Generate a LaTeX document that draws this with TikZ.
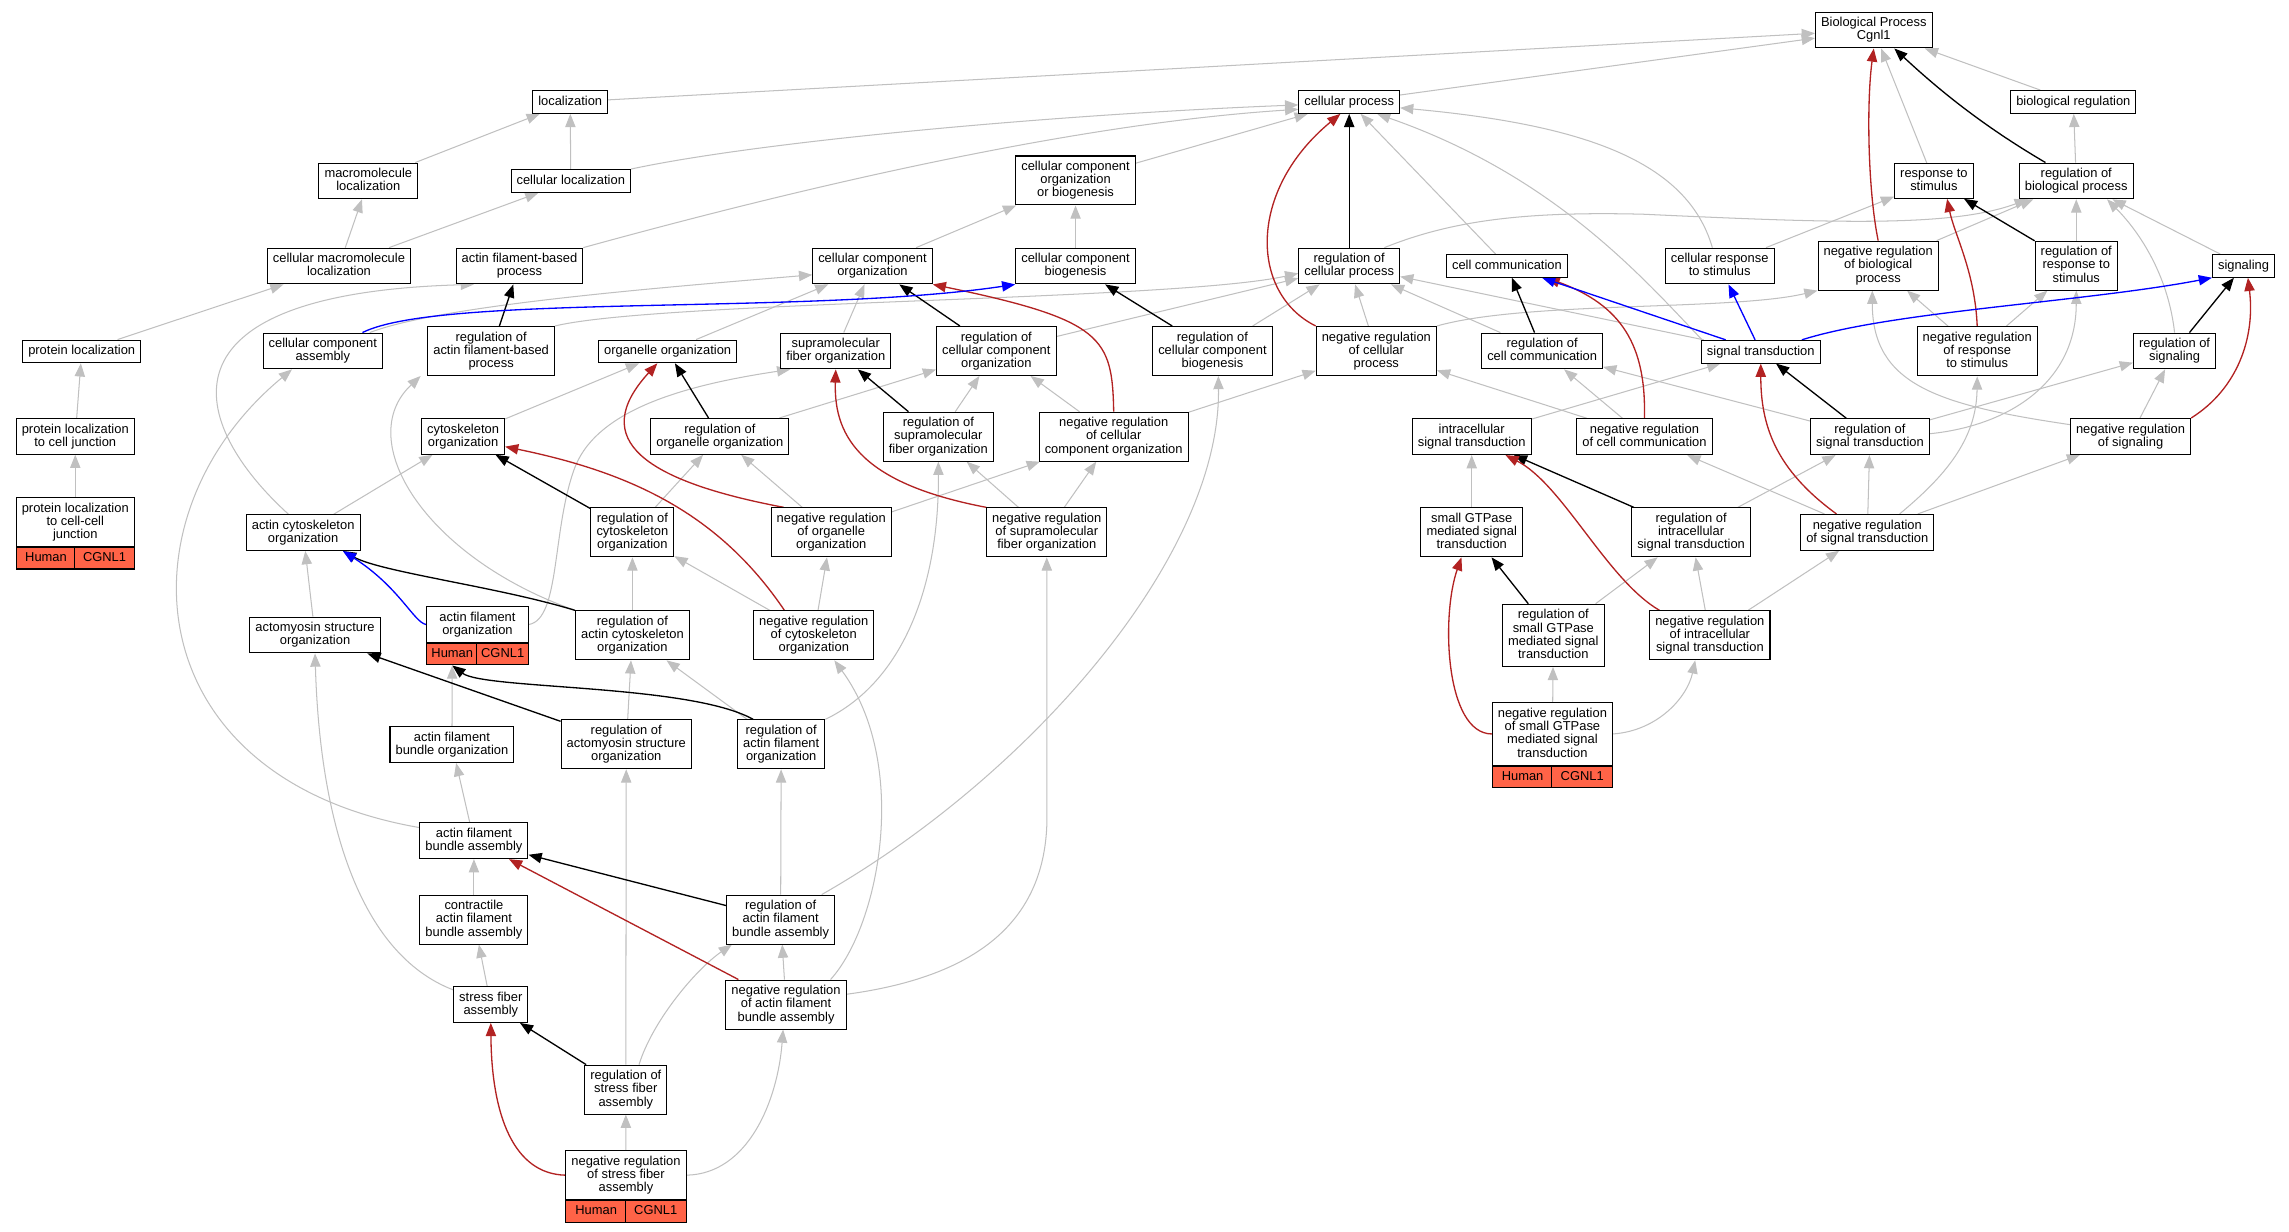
\documentclass[tikz,border=0pt]{standalone}
\usepackage{fontspec}
\setmainfont{Liberation Sans}
\usetikzlibrary{arrows.meta,calc,backgrounds}
\definecolor{isagray}{RGB}{192,192,192}
\definecolor{negred}{RGB}{178,34,34}
\definecolor{partblue}{RGB}{0,0,255}
\definecolor{genecell}{RGB}{255,99,71}
\tikzset{>={Triangle[length=9pt,width=7pt]}}
\tikzset{
	term/.style={draw, fill=white, line width=0.7pt, align=center, font=\fontsize{8.8}{9}\selectfont,
		inner xsep=3.8pt, inner ysep=3.55pt, execute at begin node={\rule[-1.9pt]{0pt}{8.4pt}}},
	band/.style={draw, fill=genecell, line width=0.7pt, font=\fontsize{8.8}{9}\selectfont,
		inner sep=0pt, minimum height=14.7pt, text height=6.4pt, text depth=1.9pt},
	isa/.style={->, draw=isagray, line width=0.7pt},
	reg/.style={->, draw=black, line width=0.9pt},
	negreg/.style={->, draw=negred, line width=0.9pt},
	partof/.style={->, draw=partblue, line width=0.9pt}
}
\newcommand{\annot}[1]{%
	\path let \p1=($(#1.south east)-(#1.south west)$) in
		node[band, minimum width=0.5*\x1, anchor=north west] (#1-sp) at (#1.south west) {Human}
		node[band, minimum width=0.5*\x1, anchor=north east] (#1-gn) at (#1.south east) {CGNL1};}

\begin{document}
\begin{tikzpicture}[x=1pt, y=-1pt]
	\useasboundingbox (0,0) rectangle (1560,839.6);
	\node[term] (bp) at (1277,20.5) {Biological Process\\Cgnl1};
	\node[term] (loc) at (388.6,69.5) {localization};
	\node[term] (cp) at (919.5,69.5) {cellular process};
	\node[term] (bioreg) at (1413,69.5) {biological regulation};
	\node[term] (mmloc) at (251,123.3) {macromolecule\\localization};
	\node[term] (cellloc) at (389,123.3) {cellular localization};
	\node[term] (ccob) at (733,123) {cellular component\\organization\\or biogenesis};
	\node[term] (resp) at (1318,123.3) {response to\\stimulus};
	\node[term] (rbp) at (1415,123.3) {regulation of\\biological process};
	\node[term] (cmmloc) at (231,181.3) {cellular macromolecule\\localization};
	\node[term] (afbp) at (354,181.3) {actin filament-based\\process};
	\node[term] (cco) at (594.6,181.3) {cellular component\\organization};
	\node[term] (ccb) at (733,181.3) {cellular component\\biogenesis};
	\node[term] (rcp) at (919.5,181.3) {regulation of\\cellular process};
	\node[term] (cc) at (1027,181.2) {cell communication};
	\node[term] (crs) at (1172,181.3) {cellular response\\to stimulus};
	\node[term] (nrbp) at (1280,181) {negative regulation\\of biological\\process};
	\node[term] (rrs) at (1415,181) {regulation of\\response to\\stimulus};
	\node[term] (sig) at (1529,181.2) {signaling};
	\node[term] (ploc) at (55.7,239.5) {protein localization};
	\node[term] (cca) at (220,239.2) {cellular component\\assembly};
	\node[term] (rafbp) at (334.7,239.2) {regulation of\\actin filament-based\\process};
	\node[term] (oo) at (455,239.5) {organelle organization};
	\node[term] (sfo) at (569.6,239.2) {supramolecular\\fiber organization};
	\node[term] (rcco) at (679,239.2) {regulation of\\cellular component\\organization};
	\node[term] (rccb) at (826.3,239.2) {regulation of\\cellular component\\biogenesis};
	\node[term] (nrcp) at (938,239.2) {negative regulation\\of cellular\\process};
	\node[term] (rcc) at (1051,239.2) {regulation of\\cell communication};
	\node[term] (st) at (1200,239.7) {signal transduction};
	\node[term] (nrrs) at (1347.5,239.5) {negative regulation\\of response\\to stimulus};
	\node[term] (rsig) at (1482,239.2) {regulation of\\signaling};
	\node[term] (plcj) at (51.3,297.4) {protein localization\\to cell junction};
	\node[term] (cyto) at (315.6,297.4) {cytoskeleton\\organization};
	\node[term] (roo) at (490.6,297.4) {regulation of\\organelle organization};
	\node[term] (rsfo) at (639.5,297.6) {regulation of\\supramolecular\\fiber organization};
	\node[term] (nrcco) at (759,297.6) {negative regulation\\of cellular\\component organization};
	\node[term] (ist) at (1003,297.6) {intracellular\\signal transduction};
	\node[term] (nrcc) at (1120.7,297.6) {negative regulation\\of cell communication};
	\node[term] (rst) at (1274.4,297.6) {regulation of\\signal transduction};
	\node[term] (nrsig) at (1452,297.4) {negative regulation\\of signaling};
	\node[term] (plccj) at (51.3,355.7) {protein localization\\to cell-cell\\junction};
	\annot{plccj}
	\node[term] (aco) at (206.6,363) {actin cytoskeleton\\organization};
	\node[term] (rco) at (431,362.8) {regulation of\\cytoskeleton\\organization};
	\node[term] (nroo) at (566.5,362.8) {negative regulation\\of organelle\\organization};
	\node[term] (nrsfo) at (713.4,362.8) {negative regulation\\of supramolecular\\fiber organization};
	\node[term] (sgt) at (1003,362.8) {small GTPase\\mediated signal\\transduction};
	\node[term] (rist) at (1152.5,362.8) {regulation of\\intracellular\\signal transduction};
	\node[term] (nrst) at (1272.6,362.8) {negative regulation\\of signal transduction};
	\node[term] (aso) at (214.7,432.8) {actomyosin structure\\organization};
	\node[term, minimum width=69.4pt] (afo) at (325.4,425.6) {actin filament\\organization};
	\annot{afo}
	\node[term] (raco) at (431,433) {regulation of\\actin cytoskeleton\\organization};
	\node[term] (nrco) at (554.6,433) {negative regulation\\of cytoskeleton\\organization};
	\node[term] (rsgt) at (1058.6,433) {regulation of\\small GTPase\\mediated signal\\transduction};
	\node[term] (nrist) at (1165.3,433) {negative regulation\\of intracellular\\signal transduction};
	\node[term] (afbo) at (308,507.5) {actin filament\\bundle organization};
	\node[term] (raso) at (426.8,507.3) {regulation of\\actomyosin structure\\organization};
	\node[term] (rafo) at (532.4,507.3) {regulation of\\actin filament\\organization};
	\node[term] (nrsgt) at (1058,500.2) {negative regulation\\of small GTPase\\mediated signal\\transduction};
	\annot{nrsgt}
	\node[term] (afba) at (323,573) {actin filament\\bundle assembly};
	\node[term] (cafba) at (323,626.7) {contractile\\actin filament\\bundle assembly};
	\node[term] (rafba) at (532,626.7) {regulation of\\actin filament\\bundle assembly};
	\node[term] (sfa) at (334.5,684.6) {stress fiber\\assembly};
	\node[term] (nrafba) at (535.7,684.6) {negative regulation\\of actin filament\\bundle assembly};
	\node[term] (rsfa) at (426.5,742.6) {regulation of\\stress fiber\\assembly};
	\node[term] (nrsfa) at (426.6,800.9) {negative regulation\\of stress fiber\\assembly};
	\annot{nrsfa}

	\begin{scope}[on background layer]
		\fill[white] (0,0) rectangle (1560,839.6);
		\draw[isa] (loc) -- (bp);
		\draw[isa] (cp) -- (bp);
		\draw[isa] (resp) -- (bp);
		\draw[isa] (bioreg) -- (bp);
		\draw[isa] (rbp) -- (bioreg);
		\draw[isa] (mmloc) -- (loc);
		\draw[isa] (cellloc) -- (loc);
		\draw[isa] (cmmloc) -- (mmloc);
		\draw[isa] (cmmloc) -- (cellloc);
		\draw[isa] (ploc) -- (cmmloc);
		\draw[isa] (plcj) -- (ploc);
		\draw[isa] (plccj) -- (plcj);
		\draw[isa] (cco) -- (ccob);
		\draw[isa] (ccb) -- (ccob);
		\draw[isa] (ccob) -- (cp);
		\draw[isa] (oo) -- (cco);
		\draw[isa] (sfo) -- (cco);
		\draw[isa] (cyto) -- (oo);
		\draw[isa] (aco) -- (cyto);
		\draw[isa] (aso) -- (aco);
		\draw[isa] (afbo) -- (afo-sp);
		\draw[isa] (afba) -- (afbo);
		\draw[isa] (cafba) -- (afba);
		\draw[isa] (sfa) -- (cafba);
		\draw[isa] (raco) -- (rco);
		\draw[isa] (rco) -- (roo);
		\draw[isa] (roo) -- (rcco);
		\draw[isa] (nroo) -- (roo);
		\draw[isa] (nroo) -- (nrcco);
		\draw[isa] (nrco) -- (rco);
		\draw[isa] (nrco) -- (nroo);
		\draw[isa] (rsfo) -- (rcco);
		\draw[isa] (nrsfo) -- (rsfo);
		\draw[isa] (nrsfo) -- (nrcco);
		\draw[isa] (nrcco) -- (rcco);
		\draw[isa] (nrcco) -- (nrcp);
		\draw[isa] (rcco) -- (rcp);
		\draw[isa] (rccb) -- (rcp);
		\draw[isa] (nrcp) -- (rcp);
		\draw[isa] (rcc) -- (rcp);
		\draw[isa] (st) -- (rcp);
		\draw[isa] (cc) -- (cp);
		\draw[isa] (crs) -- (resp);
		\draw[isa] (rafba) -- (rafo);
		\draw[isa] (rafo) -- (raco);
		\draw[isa] (raso) -- (raco);
		\draw[isa] (rsfa) -- (raso);
		\draw[isa] (nrsfa) -- (rsfa);
		\draw[isa] (nrafba) -- (rafba);
		\draw[isa] (sgt) -- (ist);
		\draw[isa] (rsgt) -- (rist);
		\draw[isa] (nrsgt) -- (rsgt);
		\draw[isa] (nrist) -- (rist);
		\draw[isa] (nrist) -- (nrst);
		\draw[isa] (rist) -- (rst);
		\draw[isa] (ist) -- (st);
		\draw[isa] (nrst) -- (rst);
		\draw[isa] (nrst) -- (nrcc);
		\draw[isa] (nrst) -- (nrsig);
		\draw[isa] (nrcc) -- (nrcp);
		\draw[isa] (nrcc) -- (rcc);
		\draw[isa] (rst) -- (rcc);
		\draw[isa] (rst) -- (rsig);
		\draw[isa] (nrsig) -- (rsig);
		\draw[isa] (sig) -- (rbp);
		\draw[isa] (rrs) -- (rbp);
		\draw[isa] (nrbp) -- (rbp);
		\draw[isa] (nrrs) -- (nrbp);
		\draw[isa] (nrrs) -- (rrs);
		\draw[isa] (cellloc.north east) .. controls (520,96) and (720,78) .. ([yshift=-2pt]cp.west);
		\draw[isa] (afbp.north east) .. controls (520,135) and (720,85) .. ([yshift=-5pt]cp.west);
		\draw[isa] ([xshift=32pt]cca.north) .. controls (300,208) and (450,196) .. ([yshift=-6pt]cco.west);
		\draw[isa] ([xshift=-10pt]aco.north) .. controls (130,290) and (100,200) .. ([xshift=-31pt]afbp.south);
		\draw[isa] ([yshift=9pt]afba.west) .. controls (90,530) and (80,350) .. ([xshift=-21pt]cca.south);
		\draw[isa] ([yshift=10pt]sfa.west) .. controls (245,650) and (218,560) .. (aso.south);
		\draw[isa] (afo.east) .. controls (382,422) and (376,360) .. (392,318) .. controls (408,278) and (470,262) .. ([xshift=-31pt]sfo.south);
		\draw[isa] (raco.north west) .. controls (290,380) and (240,300) .. ([xshift=-48pt]rafbp.south);
		\draw[isa] (rafbp.north east) .. controls (450,205) and (800,205) .. ([yshift=-5pt]rcp.west);
		\draw[isa] ([xshift=28pt]rafba.north) .. controls (700,530) and (832,380) .. ([xshift=4pt]rccb.south);
		\draw[isa] (rafo.north east) .. controls (615,465) and (640,400) .. (rsfo.south);
		\draw[isa] ([xshift=9pt]rsfa.north) .. controls (445,695) and (475,660) .. ([xshift=4pt]rafba.south west);
		\draw[isa] (nrsfa.east) .. controls (510,800) and (530,750) .. ([xshift=-2pt]nrafba.south);
		\draw[isa] ([xshift=-11pt]nrafba.north east) .. controls (600,630) and (620,520) .. ([xshift=14pt]nrco.south);
		\draw[isa] ([yshift=7pt]nrafba.east) .. controls (670,665) and (712,625) .. (713.5,560) -- (nrsfo.south);
		\draw[isa] (nrsgt.east) .. controls (1130,498) and (1150,475) .. ([xshift=-10pt]nrist.south);
		\draw[isa] ([xshift=22pt]nrst.north) .. controls (1325,325) and (1347,300) .. (nrrs.south);
		\draw[isa] ([yshift=2pt]rst.east) .. controls (1370,290) and (1415,260) .. (rrs.south);
		\draw[isa] ([xshift=-40pt]st.north) .. controls (1120,190) and (1060,120) .. ([xshift=19pt]cp.south);
		\draw[isa] ([xshift=-5pt]crs.north) .. controls (1150,110) and (1080,85) .. ([yshift=-4pt]cp.east);
		\draw[isa] (rsig.north) .. controls (1478,190) and (1460,160) .. ([xshift=21pt]rbp.south);
		\draw[isa] ([yshift=8pt]nrsig.west) .. controls (1320,276) and (1276,262) .. ([xshift=-4pt]nrbp.south);
		\draw[isa] ([xshift=24pt]rcp.north) .. controls (990,150) and (1040,144) .. (1120,146) .. controls (1250,152) and (1330,155) .. ([xshift=-33pt]rbp.south);
		\draw[isa] (nrcp.north east) .. controls (1040,205) and (1180,212) .. (nrbp.south west);
		\draw[reg] (rcp) -- (cp);
		\draw[reg] (rcco) -- (cco);
		\draw[reg] (rccb) -- (ccb);
		\draw[reg] (rafbp) -- (afbp);
		\draw[reg] (roo) -- (oo);
		\draw[reg] (rsfo) -- (sfo);
		\draw[reg] (rco) -- (cyto);
		\draw[reg] (raso) -- (aso);
		\draw[reg] (rafba) -- (afba);
		\draw[reg] (rsfa) -- (sfa);
		\draw[reg] (rcc) -- (cc);
		\draw[reg] (rrs) -- (resp);
		\draw[reg] (rsig) -- (sig);
		\draw[reg] (rst) -- (st);
		\draw[reg] (rist) -- (ist);
		\draw[reg] (rsgt) -- (sgt);
		\draw[reg] ([xshift=-21pt]rbp.north) .. controls (1350,85) and (1320,60) .. ([xshift=14pt]bp.south);
		\draw[reg] (raco.north west) .. controls (340,400) and (260,390) .. ([xshift=-12pt]aco.south east);
		\draw[reg] ([xshift=11pt]rafo.north west) .. controls (470,466) and (330,470) .. (afo-sp.south);
		\draw[negreg] (nrbp.north) .. controls (1273,130) and (1272,70) .. (bp.south);
		\draw[negreg] (nrcp.north west) .. controls (852,200) and (850,130) .. ([xshift=-6pt]cp.south);
		\draw[negreg] (nrcco.north) .. controls (758,230) and (752,218) .. (cco.south east);
		\draw[negreg] ([xshift=9pt]nroo.north west) .. controls (440,328) and (400,300) .. ([xshift=-7pt]oo.south);
		\draw[negreg] ([xshift=-20pt]nrco.north) .. controls (490,350) and (430,322) .. ([yshift=-7pt]cyto.east);
		\draw[negreg] (nrsfo.north west) .. controls (590,330) and (568,300) .. (sfo.south);
		\draw[negreg] (nrcc.north) .. controls (1122,235) and (1105,208) .. ([xshift=27pt]cc.south);
		\draw[negreg] (nrrs.north) .. controls (1346,185) and (1332,160) .. ([xshift=9pt]resp.south);
		\draw[negreg] (nrsig.north east) .. controls (1525,265) and (1537,230) .. ([xshift=3pt]sig.south);
		\draw[negreg] ([xshift=-21pt]nrst.north) .. controls (1210,320) and (1200,290) .. (st.south);
		\draw[negreg] ([xshift=7pt]nrist.north west) .. controls (1095,395) and (1065,330) .. ([xshift=23pt]ist.south);
		\draw[negreg] (nrsgt.west) .. controls (985,500) and (982,420) .. ([xshift=-7pt]sgt.south);
		\draw[negreg] (nrafba) -- (afba);
		\draw[negreg] (nrsfa.west) .. controls (350,800) and (335,760) .. (sfa.south);
		\draw[partof] ([xshift=27pt]cca.north) .. controls (300,200) and (550,215) .. (ccb.south west);
		\draw[partof] (afo.west) .. controls (282,424) and (272,400) .. ([xshift=-12pt]aco.south east);
		\draw[partof] (st) -- (cc);
		\draw[partof] (st) -- (crs);
		\draw[partof] ([xshift=28pt]st.north) .. controls (1290,212) and (1420,206) .. (sig.south west);
	\end{scope}
\end{tikzpicture}
\end{document}
